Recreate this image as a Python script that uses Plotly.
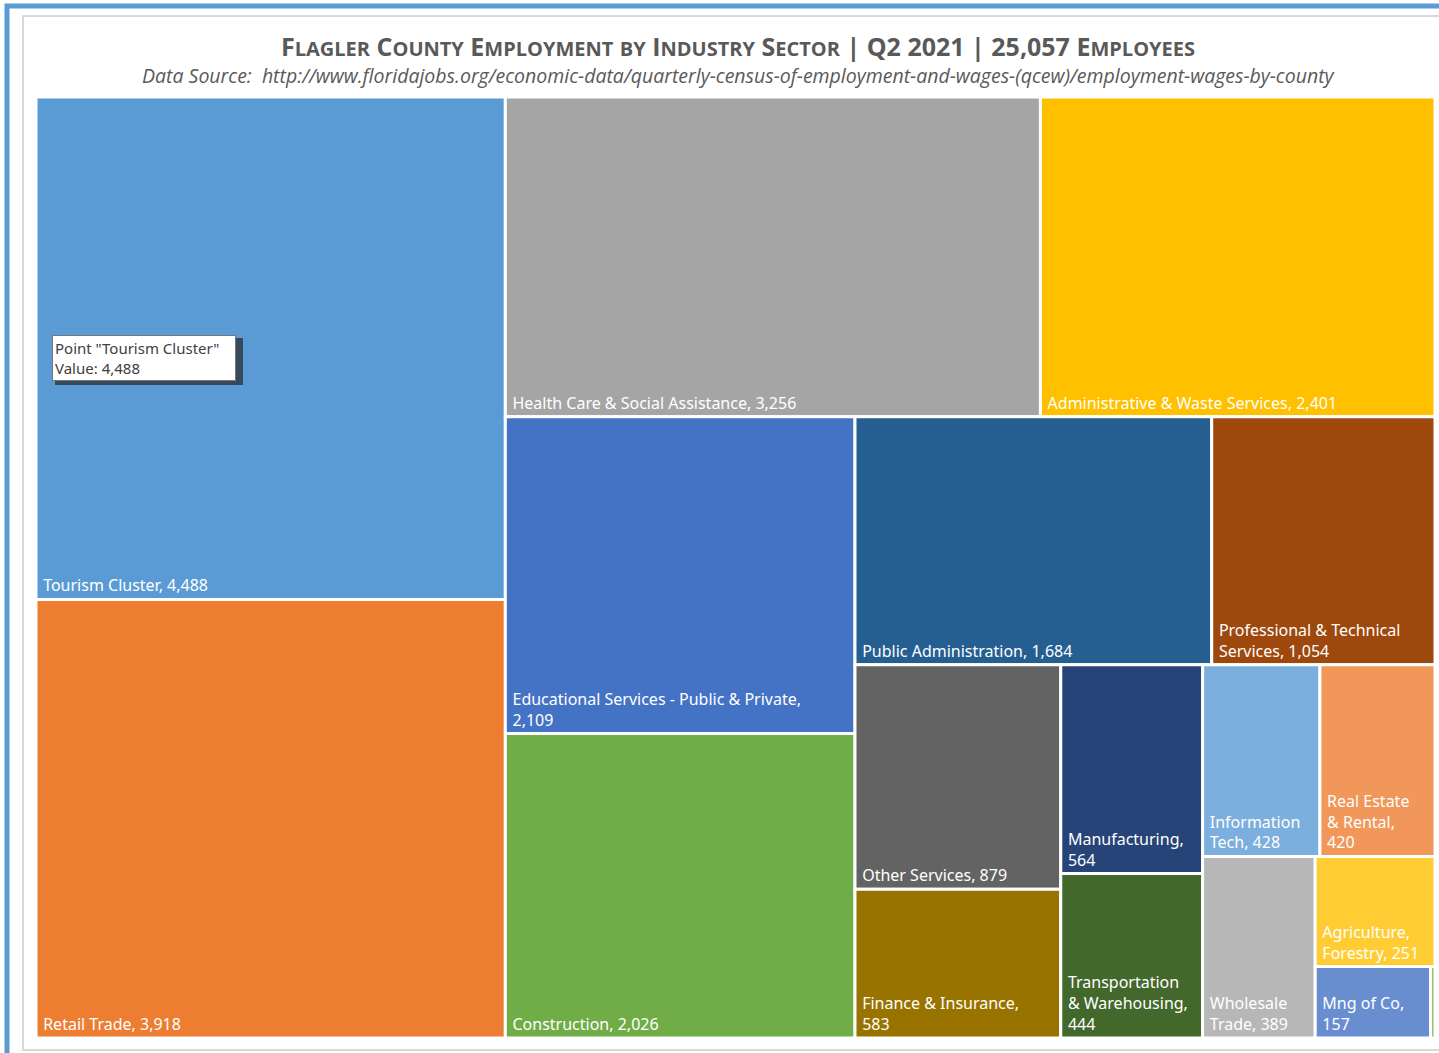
import plotly.graph_objects as go

W, H = 1439, 1053

sectors = ["Tourism Cluster", "Retail Trade", "Health Care & Social Assistance",
           "Administrative & Waste Services", "Educational Services - Public & Private",
           "Construction", "Public Administration", "Professional & Technical Services",
           "Other Services", "Finance & Insurance", "Manufacturing",
           "Transportation & Warehousing", "Information Tech", "Real Estate & Rental",
           "Wholesale Trade", "Agriculture, Forestry", "Mng of Co", "Unclassified"]
employees = [4488, 3918, 3256, 2401, 2109, 2026, 1684, 1054, 879, 583, 564,
             444, 428, 420, 389, 251, 157, 6]
label_lines = [["Tourism Cluster, 4,488"], ["Retail Trade, 3,918"],
               ["Health Care & Social Assistance, 3,256"],
               ["Administrative & Waste Services, 2,401"],
               ["Educational Services - Public & Private,", "2,109"],
               ["Construction, 2,026"], ["Public Administration, 1,684"],
               ["Professional & Technical", "Services, 1,054"],
               ["Other Services, 879"], ["Finance & Insurance,", "583"],
               ["Manufacturing,", "564"], ["Transportation", "& Warehousing,", "444"],
               ["Information", "Tech, 428"], ["Real Estate", "& Rental,", "420"],
               ["Wholesale", "Trade, 389"], ["Agriculture,", "Forestry, 251"],
               ["Mng of Co,", "157"], []]
colors = ["#5B9BD5", "#ED7D31", "#A5A5A5", "#FFC000", "#4472C4", "#70AD47",
          "#255E91", "#9E480E", "#636363", "#997300", "#264478", "#43682B",
          "#7CAFDD", "#F1975A", "#B7B7B7", "#FFCD33", "#698ED0", "#8CC168"]

title_text = "Flagler County Employment by Industry Sector | Q2 2021 | 25,057 Employees"
subtitle_text = ("Data Source:  http://www.floridajobs.org/economic-data/quarterly-census-"
                 "of-employment-and-wages-(qcew)/employment-wages-by-county")


def small_caps(s, small=19):
    out, buf = [], ""
    for ch in s:
        if ch.islower():
            buf += ch.upper()
        else:
            if buf:
                out.append(f'<span style="font-size:{small}px">{buf}</span>')
                buf = ""
            out.append(ch)
    if buf:
        out.append(f'<span style="font-size:{small}px">{buf}</span>')
    return "".join(out)


def px(x):
    return x / W


def py(y):
    return 1 - y / H


display_text = ["<br>".join("&nbsp;" + ln for ln in lines) for lines in label_lines]

fig = go.Figure(go.Treemap(
    labels=sectors,
    parents=[""] * len(sectors),
    values=employees,
    text=display_text,
    texttemplate="%{text}",
    textposition="bottom left",
    textfont=dict(family="Noto Sans", size=16, color="white"),
    marker=dict(colors=colors, line=dict(color="white", width=3), pad=dict(t=0, l=0, r=0, b=0)),
    tiling=dict(packing="squarify", pad=0),
    sort=True,
    pathbar=dict(visible=False),
    hoverinfo="label+value",
    domain=dict(x=[px(36), px(1435)], y=[py(1038), py(97)]),
))

shapes = [
    dict(type="rect", xref="paper", yref="paper", x0=px(7), x1=px(1450), y0=py(1070), y1=py(6),
         line=dict(color="#5B9BD5", width=5), fillcolor="rgba(0,0,0,0)", layer="below"),
    dict(type="rect", xref="paper", yref="paper", x0=px(23), x1=px(1450), y0=py(1050), y1=py(16),
         line=dict(color="#D9D9D9", width=2), fillcolor="white", layer="below"),
    dict(type="rect", xref="paper", yref="paper", x0=px(55), x1=px(243), y0=py(385), y1=py(338),
         line=dict(width=0), fillcolor="rgba(40,40,40,0.7)", layer="above"),
]

annotations = [
    dict(text="<b>" + small_caps(title_text, small=20) + "</b>", x=px(738), y=py(46),
         xref="paper", yref="paper", xanchor="center", yanchor="middle", showarrow=False,
         font=dict(family="Open Sans", size=25, color="#595959")),
    dict(text=f"<i>{subtitle_text}</i>", x=px(738), y=py(76), xref="paper", yref="paper",
         xanchor="center", yanchor="middle", showarrow=False,
         font=dict(family="Open Sans", size=19.5, color="#595959")),
    dict(text='Point "Tourism Cluster"<br>Value: 4,488', x=px(52), y=py(335),
         xref="paper", yref="paper", xanchor="left", yanchor="top", showarrow=False,
         align="left", bgcolor="white", bordercolor="#767676", borderwidth=1, borderpad=2,
         width=178, height=40,
         font=dict(family="Noto Sans", size=15, color="#404040")),
]

fig.update_layout(
    width=W, height=H,
    margin=dict(l=0, r=0, t=0, b=0),
    paper_bgcolor="white",
    shapes=shapes,
    annotations=annotations,
)

fig.write_html("out.html", config={"displayModeBar": False},
               post_script="document.body.style.margin='0';document.body.style.overflow='hidden';")
